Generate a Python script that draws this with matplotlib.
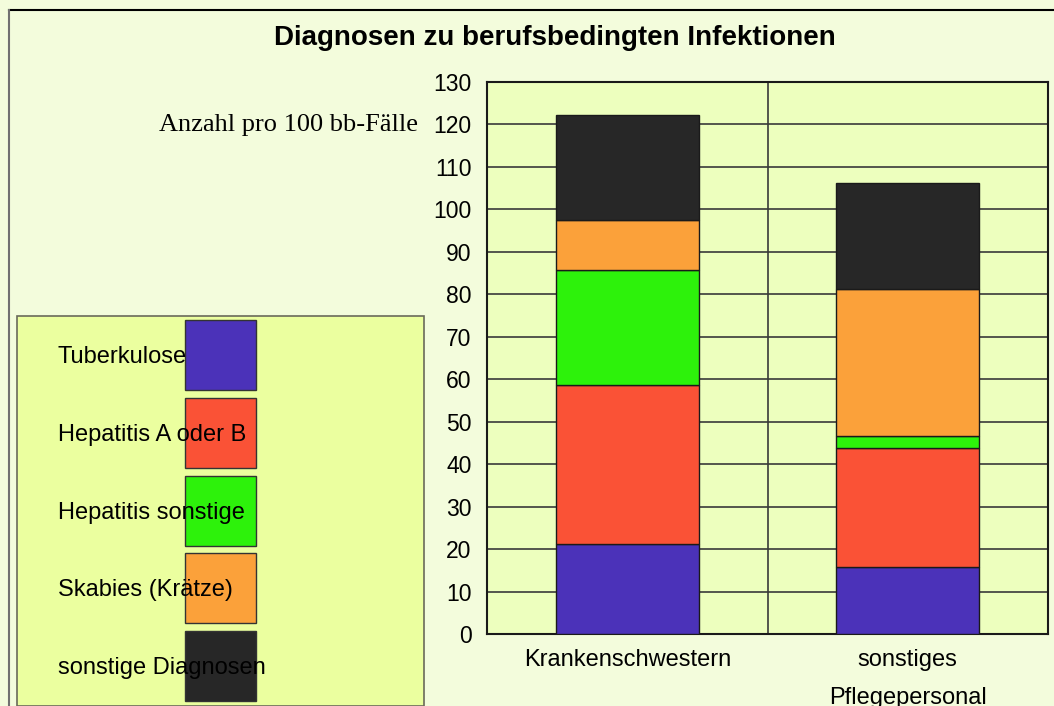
import matplotlib.pyplot as plt
from matplotlib.patches import Rectangle

# Daten
groups = ['Krankenschwestern', 'sonstiges\nPflegepersonal']
diagnosen = ['Tuberkulose', 'Hepatitis A oder B', 'Hepatitis sonstige',
             'Skabies (Krätze)', 'sonstige Diagnosen']
tuberkulose = [21.2, 15.8]
hepatitis_ab = [37.5, 27.9]
hepatitis_sonst = [27.1, 3.0]
skabies = [11.7, 34.5]
sonstige = [24.7, 24.9]
colors = ['#4B32B9', '#FA5236', '#2DF20B', '#FBA13A', '#272727']
y_ticks = list(range(0, 131, 10))

plt.rcParams['font.family'] = ['Liberation Sans', 'DejaVu Sans']

fig = plt.figure(figsize=(10.54, 7.06), dpi=100)
fig.patch.set_facecolor('#F3FCDC')

# Rahmen um das Diagramm
fig.add_artist(plt.Line2D([9 / 1054, 1.0], [1 - 10 / 706] * 2, color='black', lw=1.5))
fig.add_artist(plt.Line2D([9 / 1054] * 2, [0, 1 - 10 / 706], color='#707070', lw=1.5))

ax = fig.add_axes([487 / 1054, 1 - 634 / 706, (1048 - 487) / 1054, (634 - 82) / 706])
ax.set_facecolor('#EDFFBE')

series = [tuberkulose, hepatitis_ab, hepatitis_sonst, skabies, sonstige]
x = range(len(groups))
bottom = [0, 0]
for vals, col in zip(series, colors):
    ax.bar(x, vals, width=0.51, bottom=bottom, color=col,
           edgecolor='#1a1a1a', linewidth=1.0, zorder=3)
    bottom = [b + v for b, v in zip(bottom, vals)]

ax.set_xlim(-0.5, 1.5)
ax.set_ylim(0, 130)
ax.set_yticks(y_ticks)
ax.tick_params(axis='y', labelsize=16.5, length=0, pad=11)
ax.set_xticks(list(x))
ax.set_xticklabels(groups, fontsize=17, linespacing=1.95, va='top')
ax.tick_params(axis='x', length=0, pad=11)
ax.grid(axis='y', color='#3a3a3a', linewidth=1.2, zorder=0)
ax.axvline(0.5, color='#3a3a3a', linewidth=1.2, zorder=0)
for s in ax.spines.values():
    s.set_linewidth(1.5)
    s.set_color('#1a1a1a')

fig.text(555 / 1054, 1 - 38 / 706, 'Diagnosen zu berufsbedingten Infektionen',
         ha='center', va='center', fontsize=20, fontweight='bold')
fig.text(418 / 1054, 1 - 125 / 706, 'Anzahl pro 100 bb-Fälle',
         ha='right', va='center', fontsize=19, family='Liberation Serif')

# Legende (von Hand gezeichnet, Text liegt über den Farbfeldern)
W, H = 1054, 706
fig.add_artist(Rectangle((17 / W, 0), (424 - 17) / W, 1 - 316 / H,
                         transform=fig.transFigure, facecolor='#EBFF9F',
                         edgecolor='#6a6a5a', linewidth=1.2))
tops = [320, 398, 476, 553, 631]
for name, col, top in zip(diagnosen, colors, tops):
    fig.add_artist(Rectangle((185 / W, 1 - (top + 70) / H), 71 / W, 70 / H,
                             transform=fig.transFigure, facecolor=col,
                             edgecolor='#333333', linewidth=1.0))
    fig.text(58 / W, 1 - (top + 37) / H, name, ha='left', va='center', fontsize=17)

fig.savefig('out.png', dpi=100, facecolor=fig.get_facecolor())
